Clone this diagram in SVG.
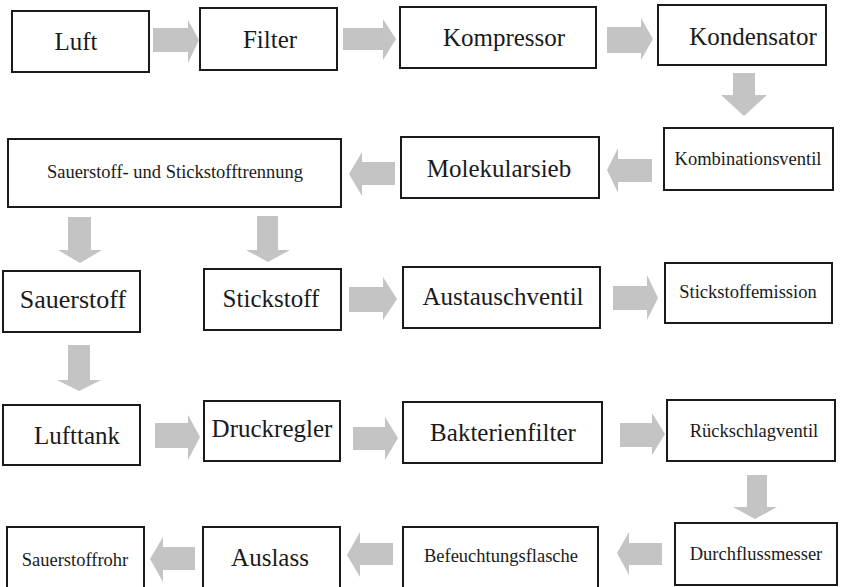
<svg xmlns="http://www.w3.org/2000/svg" width="844" height="587" viewBox="0 0 844 587">
<style>
.box{fill:#fff;stroke:#1a1a1a;stroke-width:2}
.t{font-family:"Liberation Serif","Times New Roman",serif;fill:#1a1a1a;text-anchor:middle}
.b{font-size:25px}
.s{font-size:18.5px}
.ar{fill:#c4c4c4;stroke:none}
</style>
<rect width="844" height="587" fill="#fff"/>
<g id="connectors">
<polygon class="ar" points="153,28 188,28 188,20 199,40 188,63 188,52 153,52"/>
<polygon class="ar" points="343,28 383,28 383,19 396,39 383,60 383,50 343,50"/>
<polygon class="ar" points="607,27 641,27 641,18 653,39 641,60 641,53 607,53"/>
<polygon class="ar" points="733,73 755,73 755,95 767,95 744,116 721,95 733,95"/>
<polygon class="ar" points="652,159 618,159 618,148 607,170 618,193 618,182 652,182"/>
<polygon class="ar" points="395,162 362,162 362,152 349,174 362,196 362,185 395,185"/>
<polygon class="ar" points="68,217 91,217 91,250 102,250 80,263 58,250 68,250"/>
<polygon class="ar" points="257,216 278,216 278,250 290,250 268,262 246,250 257,250"/>
<polygon class="ar" points="349,287 383,287 383,277 397,299 383,320 383,312 349,312"/>
<polygon class="ar" points="613,286 647,286 647,275 658,298 647,320 647,310 613,310"/>
<polygon class="ar" points="68,345 90,345 90,380 101,380 79,391 57,380 68,380"/>
<polygon class="ar" points="155,423 188,423 188,415 200,437 188,460 188,448 155,448"/>
<polygon class="ar" points="353,427 385,427 385,417 398,438 385,460 385,450 353,450"/>
<polygon class="ar" points="620,423 652,423 652,413 665,434 652,455 652,447 620,447"/>
<polygon class="ar" points="747,475 767,475 767,507 777,507 755,519 733,507 747,507"/>
<polygon class="ar" points="662,543 629,543 629,532 617,553 629,575 629,565 662,565"/>
<polygon class="ar" points="393,543 360,543 360,532 347,555 360,577 360,565 393,565"/>
<polygon class="ar" points="195,547 163,547 163,537 150,559 163,582 163,570 195,570"/>
</g>
<g id="n-luft"><rect class="box" x="12" y="11" width="137" height="61"/><text class="t b" x="76" y="50">Luft</text></g>
<g id="n-filter"><rect class="box" x="200" y="8" width="137" height="62"/><text class="t b" x="270" y="48">Filter</text></g>
<g id="n-kompressor"><rect class="box" x="400" y="7" width="196" height="61"/><text class="t b" x="504" y="46">Kompressor</text></g>
<g id="n-kondensator"><rect class="box" x="658" y="5" width="168" height="60"/><text class="t b" x="753" y="45">Kondensator</text></g>
<g id="n-kombinationsventil"><rect class="box" x="664" y="128" width="169" height="62"/><text class="t s" x="748" y="165">Kombinationsventil</text></g>
<g id="n-molekularsieb"><rect class="box" x="401" y="137" width="198" height="61"/><text class="t b" x="499" y="177">Molekularsieb</text></g>
<g id="n-trennung"><rect class="box" x="8" y="139" width="333" height="68"/><text class="t s" x="175" y="178">Sauerstoff- und Stickstofftrennung</text></g>
<g id="n-sauerstoff"><rect class="box" x="3" y="271" width="137" height="61"/><text class="t b" x="73" y="308" style="font-size:26px">Sauerstoff</text></g>
<g id="n-stickstoff"><rect class="box" x="204" y="269" width="137" height="61"/><text class="t b" x="271" y="307">Stickstoff</text></g>
<g id="n-austauschventil"><rect class="box" x="403" y="267" width="197" height="61"/><text class="t b" x="503" y="305">Austauschventil</text></g>
<g id="n-stickstoffemission"><rect class="box" x="665" y="263" width="167" height="60"/><text class="t s" x="748" y="298">Stickstoffemission</text></g>
<g id="n-lufttank"><rect class="box" x="3" y="405" width="137" height="60"/><text class="t b" x="77" y="444">Lufttank</text></g>
<g id="n-druckregler"><rect class="box" x="204" y="401" width="136" height="60"/><text class="t b" x="272" y="437">Druckregler</text></g>
<g id="n-bakterienfilter"><rect class="box" x="403" y="402" width="199" height="61"/><text class="t b" x="503" y="441">Bakterienfilter</text></g>
<g id="n-rueckschlagventil"><rect class="box" x="667" y="400" width="168" height="61"/><text class="t s" x="754" y="437">Rückschlagventil</text></g>
<g id="n-durchflussmesser"><rect class="box" x="675" y="523" width="162" height="62"/><text class="t s" x="756" y="560">Durchflussmesser</text></g>
<g id="n-befeuchtungsflasche"><rect class="box" x="403" y="527" width="195" height="64"/><text class="t s" x="501" y="562">Befeuchtungsflasche</text></g>
<g id="n-auslass"><rect class="box" x="203" y="527" width="137" height="64"/><text class="t b" x="270" y="566">Auslass</text></g>
<g id="n-sauerstoffrohr"><rect class="box" x="7" y="527" width="137" height="64"/><text class="t s" x="75" y="566">Sauerstoffrohr</text></g>
</svg>
